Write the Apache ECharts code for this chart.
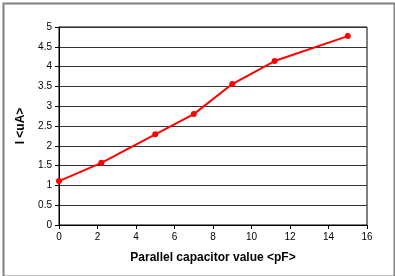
<!DOCTYPE html>
<html><head><meta charset="utf-8">
<script src="https://cdn.jsdelivr.net/npm/echarts@6/dist/echarts.min.js"></script>
<style>html,body{margin:0;padding:0;background:#fff}#c{width:395px;height:276px}</style>
</head><body><div id="c"></div>
<script>
const capacitance = [0, 2.2, 5, 7, 9, 11.2, 15];
const current = [1.11, 1.57, 2.29, 2.8, 3.56, 4.14, 4.77];
const xTicks = {min: 0, max: 16, interval: 2};
const yTicks = {min: 0, max: 5, interval: 0.5};
const xName = 'Parallel capacitor value <pF>';
const yName = 'I <uA>';

const chart = echarts.init(document.getElementById('c'), null, {renderer: 'canvas'});
const font = 'Liberation Sans, Arial, sans-serif';
chart.setOption({
  animation: false,
  graphic: [{type: 'rect', left: 1, top: 1, shape: {width: 391, height: 273}, style: {fill: 'none', stroke: '#808080', lineWidth: 2}}],
  grid: {left: 59, top: 27, right: 28, bottom: 51, show: true, borderColor: '#000', borderWidth: 1},
  xAxis: {
    type: 'value', min: xTicks.min, max: xTicks.max, interval: xTicks.interval,
    name: xName, nameLocation: 'middle', nameGap: 27,
    nameTextStyle: {fontFamily: font, fontWeight: 'bold', fontSize: 12, color: '#000'},
    axisLine: {lineStyle: {color: '#000'}},
    axisTick: {show: true, length: 4, lineStyle: {color: '#000'}},
    axisLabel: {fontFamily: font, fontSize: 10, color: '#000', margin: 7},
    splitLine: {show: false}
  },
  yAxis: {
    type: 'value', min: yTicks.min, max: yTicks.max, interval: yTicks.interval,
    name: yName, nameLocation: 'middle', nameGap: 32,
    nameTextStyle: {fontFamily: font, fontWeight: 'bold', fontSize: 12, color: '#000'},
    axisLine: {show: true, lineStyle: {color: '#000'}},
    axisTick: {show: true, length: 4, lineStyle: {color: '#000'}},
    axisLabel: {fontFamily: font, fontSize: 10, color: '#000', margin: 7},
    splitLine: {show: true, lineStyle: {color: '#333', width: 1}}
  },
  series: [{
    type: 'line',
    data: capacitance.map((x, i) => [x, current[i]]),
    symbol: 'circle', symbolSize: 6,
    lineStyle: {color: '#ff0000', width: 2},
    itemStyle: {color: '#ff0000'}
  }]
});
</script></body></html>
